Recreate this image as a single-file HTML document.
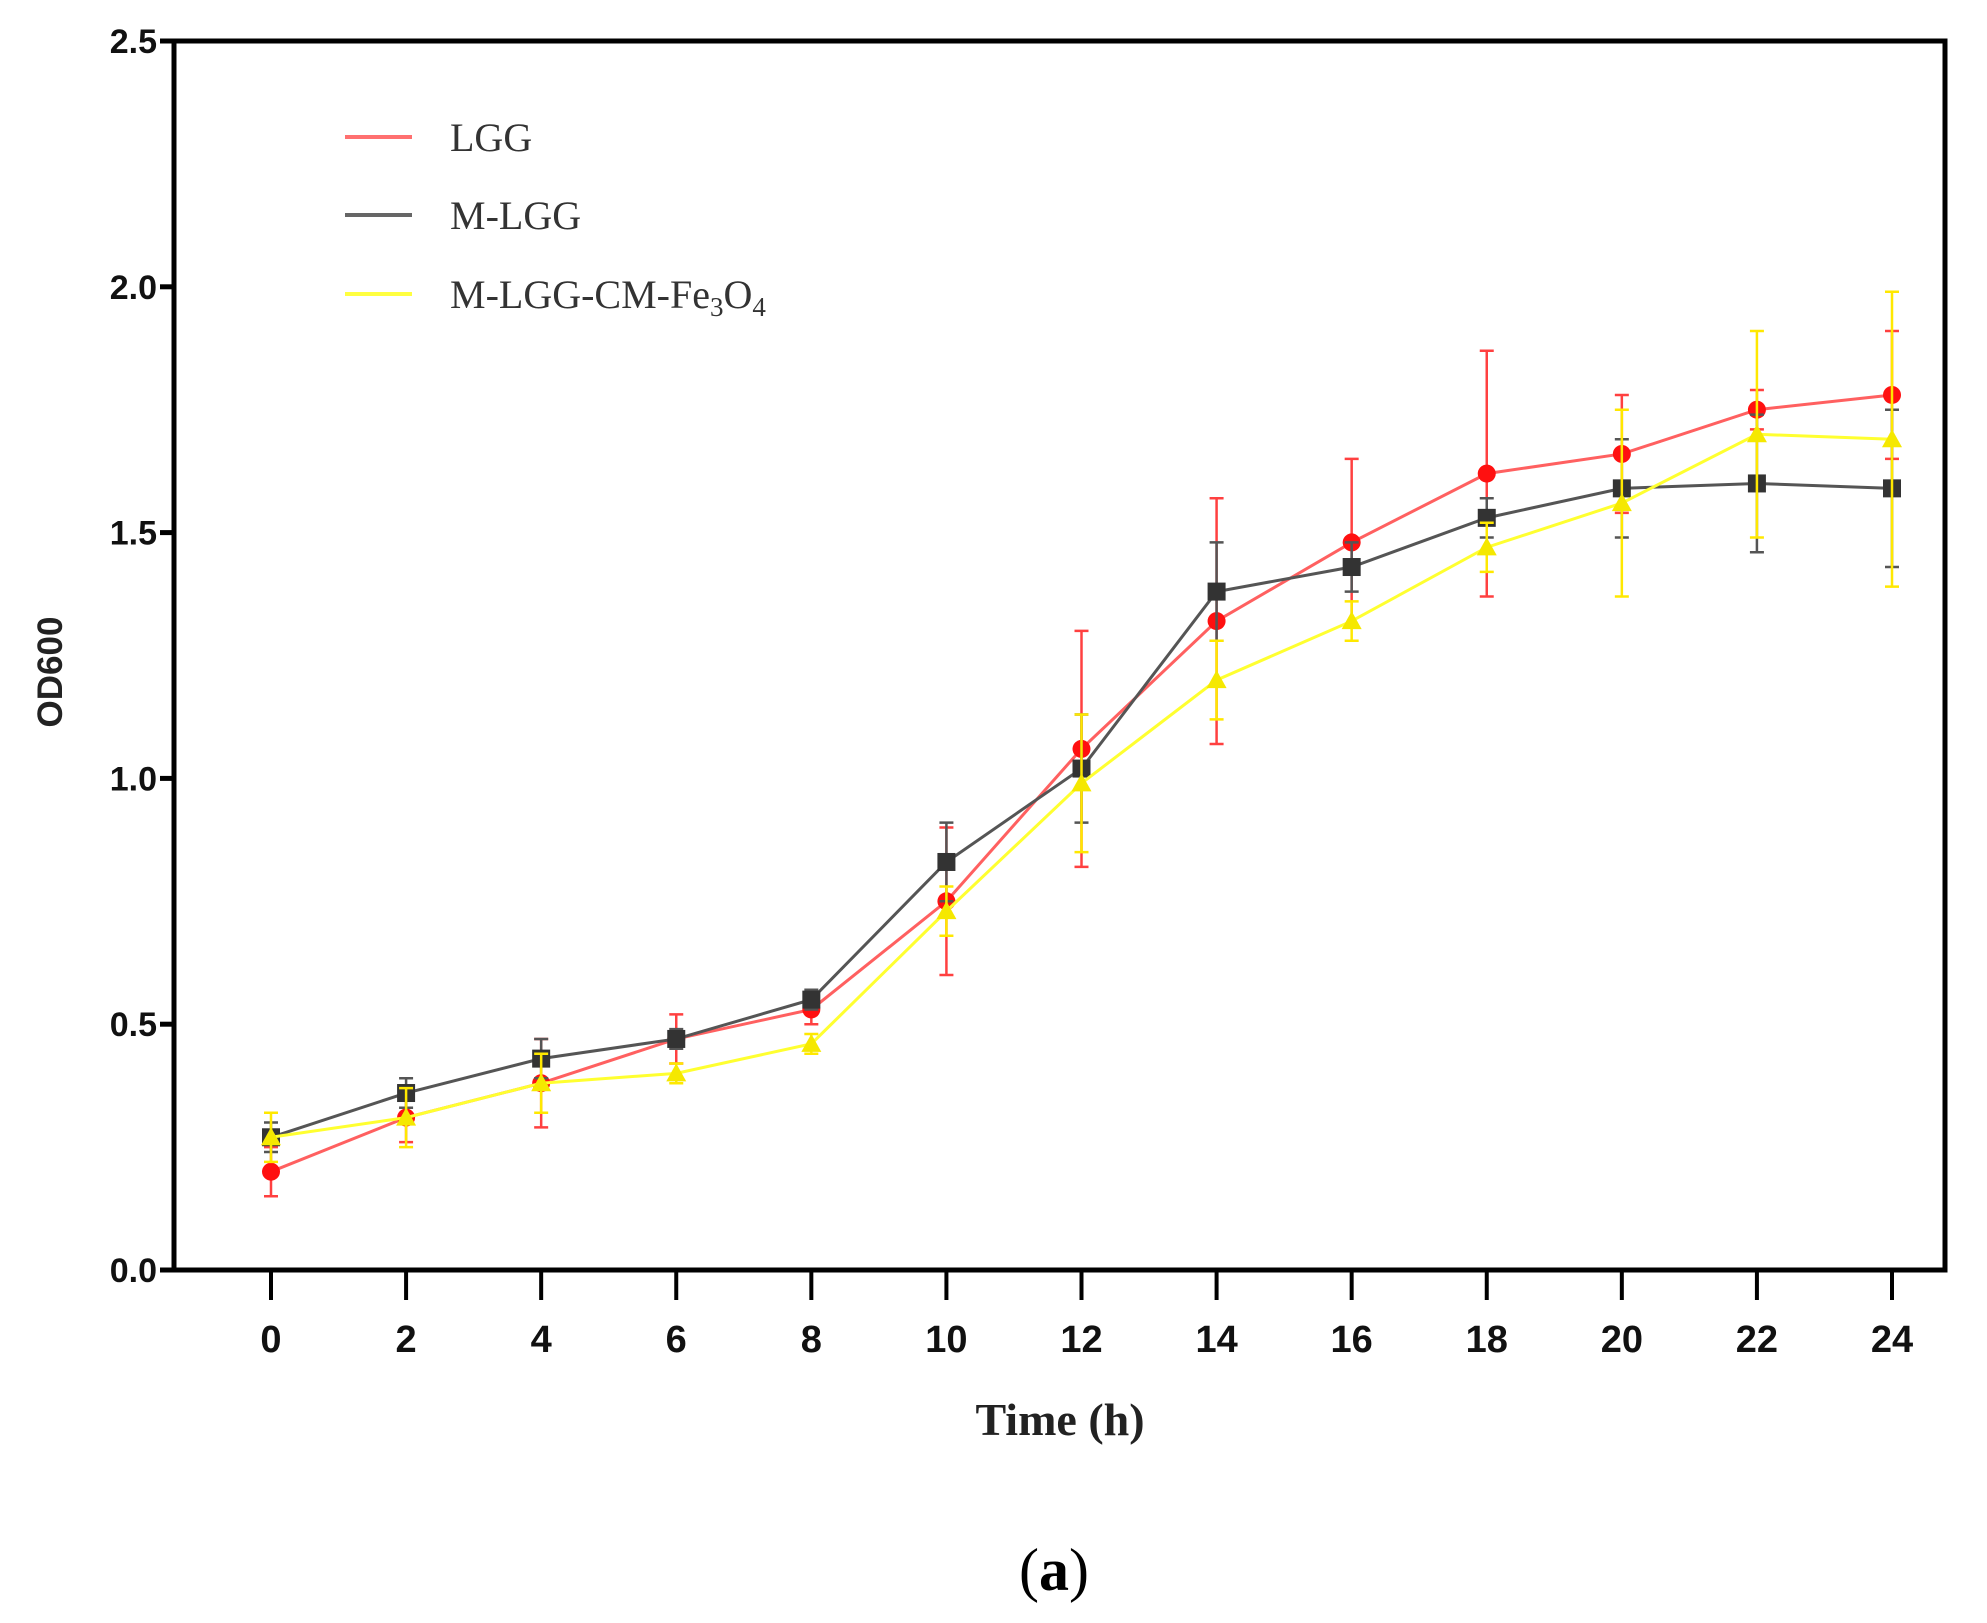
<!DOCTYPE html>
<html><head><meta charset="utf-8"><style>
html,body{margin:0;padding:0;background:#fff;}
svg{display:block;}
</style></head><body>
<svg id="chart" width="1987" height="1623" viewBox="0 0 1987 1623" xmlns="http://www.w3.org/2000/svg">
<g id="axes"></g>
<g id="series"></g>
<g>
 <line x1="345" y1="137" x2="412" y2="137" stroke="#ff7070" stroke-width="4"/>
 <text x="450" y="151" font-family="Liberation Serif, serif" font-size="40" fill="#333">LGG</text>
 <line x1="345" y1="215" x2="412" y2="215" stroke="#666" stroke-width="4"/>
 <text x="450" y="229" font-family="Liberation Serif, serif" font-size="40" fill="#333">M-LGG</text>
 <line x1="345" y1="294" x2="412" y2="294" stroke="#ffff40" stroke-width="4"/>
 <text x="450" y="308" font-family="Liberation Serif, serif" font-size="40" fill="#333">M-LGG-CM-Fe<tspan font-size="27" dy="8">3</tspan><tspan dy="-8">O</tspan><tspan font-size="27" dy="8">4</tspan></text>
</g>
<text x="1060" y="1435" text-anchor="middle" font-family="Liberation Serif, serif" font-weight="bold" font-size="46" fill="#222">Time (h)</text>
<text transform="translate(62,672) rotate(-90)" text-anchor="middle" font-family="Liberation Sans, sans-serif" font-weight="bold" font-size="35" fill="#222">OD600</text>
<text x="1054" y="1590" text-anchor="middle" font-family="Liberation Serif, serif" font-size="60" fill="#000">(<tspan font-weight="bold">a</tspan>)</text>
</svg>
<script>
const times=[0,2,4,6,8,10,12,14,16,18,20,22,24];
const lgg=[0.20,0.31,0.38,0.47,0.53,0.75,1.06,1.32,1.48,1.62,1.66,1.75,1.78];
const lggErr=[0.05,0.05,0.09,0.05,0.03,0.15,0.24,0.25,0.17,0.25,0.12,0.04,0.13];
const mlgg=[0.27,0.36,0.43,0.47,0.55,0.83,1.02,1.38,1.43,1.53,1.59,1.60,1.59];
const mlggErr=[0.03,0.03,0.04,0.02,0.02,0.08,0.11,0.10,0.05,0.04,0.10,0.14,0.16];
const fe=[0.27,0.31,0.38,0.40,0.46,0.73,0.99,1.20,1.32,1.47,1.56,1.70,1.69];
const feErr=[0.05,0.06,0.06,0.02,0.02,0.05,0.14,0.08,0.04,0.05,0.19,0.21,0.30];
const yTicks=[0,0.5,1.0,1.5,2.0,2.5];
const xTicks=[0,2,4,6,8,10,12,14,16,18,20,22,24];

const NS='http://www.w3.org/2000/svg';
const X=t=>271+(t/24)*(1892-271);
const Y=v=>1270-(v/2.5)*(1270-41);
function mk(tag,attrs,parent){const e=document.createElementNS(NS,tag);for(const k in attrs)e.setAttribute(k,attrs[k]);parent.appendChild(e);return e;}
const ax=document.getElementById('axes');
let fr=mk('rect',{x:174,y:41,width:1771,height:1229,fill:'none',stroke:'#000','stroke-width':5},ax);


yTicks.forEach(v=>{
 let l=mk('line',{x1:160,x2:174,y1:Y(v),y2:Y(v),stroke:'#000','stroke-width':5},ax);
 
 
 let t=mk('text',{x:157,y:Y(v)+12,'text-anchor':'end','font-family':'Liberation Sans, sans-serif','font-weight':'bold','font-size':34,fill:'#111'},ax);
 t.textContent=v.toFixed(1);
 
 
});
xTicks.forEach(v=>{
 let l=mk('line',{x1:X(v),x2:X(v),y1:1270,y2:1300,stroke:'#000','stroke-width':4},ax);
 
 
 let t=mk('text',{x:X(v),y:1352,'text-anchor':'middle','font-family':'Liberation Sans, sans-serif','font-weight':'bold','font-size':38,fill:'#111'},ax);
 t.textContent=v;
 
 
});
const sg=document.getElementById('series');
function drawSeries(name,vals,errs,lineCol,markCol,errCol,shape){
 const g=mk('g',{},sg);
 
 
 vals.forEach((v,i)=>{
  const x=X(times[i]);
  let e=mk('path',{d:`M${x},${Y(v-errs[i])}V${Y(v+errs[i])}M${x-7},${Y(v-errs[i])}h14M${x-7},${Y(v+errs[i])}h14`,stroke:errCol,'stroke-width':2.5,fill:'none'},g);
  
  
 });
 let p=mk('polyline',{points:vals.map((v,i)=>X(times[i])+','+Y(v)).join(' '),fill:'none',stroke:lineCol,'stroke-width':3},g);
 
 
 vals.forEach((v,i)=>{
  const x=X(times[i]),y=Y(v);let m;
  if(shape==='circle')m=mk('circle',{cx:x,cy:y,r:9,fill:markCol},g);
  else if(shape==='square')m=mk('rect',{x:x-9,y:y-9,width:18,height:18,fill:markCol},g);
  else m=mk('polygon',{points:`${x},${y-10} ${x+10},${y+8} ${x-10},${y+8}`,fill:markCol},g);
  
  
 });
}
drawSeries('lgg',lgg,lggErr,'#ff6060','#ff1010','#ff4040','circle');
drawSeries('m-lgg',mlgg,mlggErr,'#555','#333','#555','square');
drawSeries('fe3o4',fe,feErr,'#ffff30','#f5e800','#ffe800','triangle');
</script>
</body></html>
